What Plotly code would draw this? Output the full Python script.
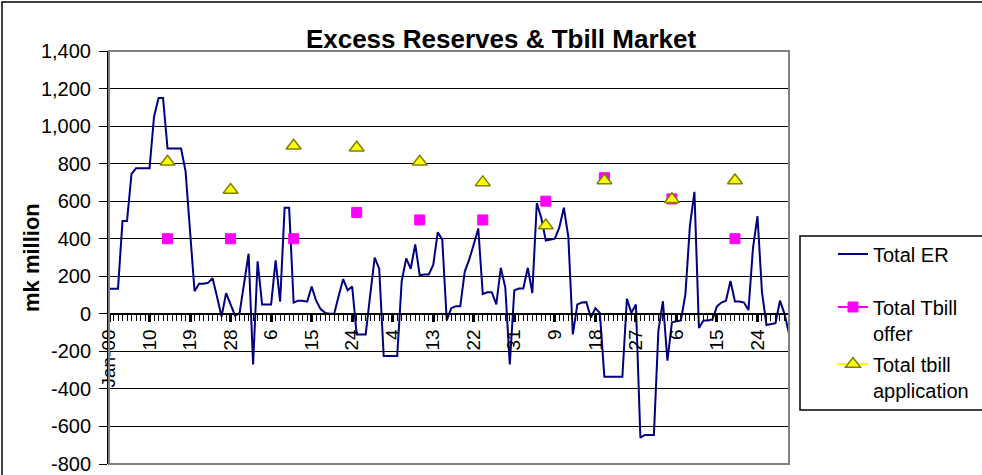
import datetime as dt
import plotly.graph_objects as go

# ---------------- data ----------------
start_date = dt.date(2000, 1, 1)
total_er = [
    134, 134, 134, 495, 495, 745, 775, 775, 775, 775,
    1050, 1150, 1150, 880, 880, 880, 880, 760, 450, 120,
    160, 160, 165, 190, 90, -15, 110, 50, -10, 5,
    160, 320, -270, 280, 50, 50, 50, 285, 65, 565,
    565, 60, 70, 70, 65, 145, 70, 25, 5, 0,
    0, 95, 185, 125, 145, -110, -110, -110, 100, 300,
    240, -225, -225, -225, -225, 175, 295, 240, 370, 205,
    210, 210, 260, 435, 395, -35, 30, 40, 40, 225,
    290, 370, 455, 105, 115, 115, 50, 245, 140, -270,
    125, 135, 135, 245, 110, 590, 510, 390, 395, 400,
    460, 565, 410, -110, 50, 60, 62, -20, 30, 5,
    -335, -335, -335, -335, -335, 80, 5, 50, -660, -645,
    -645, -645, -90, 67, -250, -45, -40, -35, 105, 470,
    650, -75, -35, -35, -30, 40, 60, 70, 175, 66,
    66, 60, 20, 350, 520, 115, -60, -55, -50, 70,
    0, -105,
]
dates = [(start_date + dt.timedelta(days=i)).isoformat() for i in range(len(total_er))]

auction_dates = ["2000-01-14", "2000-01-28", "2000-02-11", "2000-02-25", "2000-03-10",
                 "2000-03-24", "2000-04-07", "2000-04-20", "2000-05-05", "2000-05-19"]
tbill_offer = [400, 400, 400, 540, 500, 500, 600, 725, 612, 400]
tbill_application = [810, 660, 895, 885, 810, 700, 470, 710, 610, 710]

tick_labels = ["Jan-00", "10", "19", "28", "6", "15", "24", "4", "13", "22", "31",
               "9", "18", "27", "6", "15", "24"]
tick_dates = dates[::9][:len(tick_labels)]

y_tick_vals = [-800, -600, -400, -200, 0, 200, 400, 600, 800, 1000, 1200, 1400]
y_tick_text = ["-800", "-600", "-400", "-200", "0", "200", "400", "600", "800",
               "1,000", "1,200", "1,400"]

# sparse series (blank days between auctions)
offer_full = [None] * len(dates)
appl_full = [None] * len(dates)
for d, o, a in zip(auction_dates, tbill_offer, tbill_application):
    k = dates.index(d)
    offer_full[k] = o
    appl_full[k] = a

# ---------------- layout geometry ----------------
W, H = 982, 475
PL, PR, PT, PB = 109, 789, 51, 464
xd = [PL / W, PR / W]
yd = [(H - PB) / H, (H - PT) / H]
ymin, ymax = -800, 1400
zero_pos = yd[0] + (yd[1] - yd[0]) * (0 - ymin) / (ymax - ymin)

FONT = "Liberation Sans, Arial, sans-serif"

fig = go.Figure()
fig.add_trace(go.Scatter(
    x=dates, y=total_er, mode="lines", name="Total ER",
    line=dict(color="#000080", width=2), legend="legend"))
fig.add_trace(go.Scatter(
    x=dates, y=offer_full, mode="lines+markers", name="Total Tbill<br>offer",
    connectgaps=False,
    line=dict(color="#FF00FF", width=2),
    marker=dict(symbol="square", size=10, color="#FF00FF",
                line=dict(color="#FF00FF", width=1)),
    legend="legend2"))
fig.add_trace(go.Scatter(
    x=dates, y=appl_full, mode="lines+markers", name="Total tbill<br>application",
    connectgaps=False,
    line=dict(color="#FFFF00", width=2),
    marker=dict(symbol="triangle-up", size=13, color="#FFFF00",
                line=dict(color="#808000", width=1.5)),
    legend="legend3"))


def px2x(px):
    return px / W


def px2y(py):
    return (H - py) / H


legend_common = dict(
    bgcolor="rgba(0,0,0,0)", borderwidth=0,
    font=dict(family=FONT, size=20, color="black"),
    xanchor="left", x=px2x(833), valign="top",
)

fig.update_layout(
    width=W, height=H,
    margin=dict(l=0, r=0, t=0, b=0, autoexpand=False),
    paper_bgcolor="white", plot_bgcolor="white",
    font=dict(family=FONT, size=18, color="black"),
    title=dict(text="<b>Excess Reserves & Tbill Market</b>",
               font=dict(family=FONT, size=26, color="black"),
               xref="container", yref="container",
               x=501 / W, xanchor="center", y=px2y(39), yanchor="middle"),
    xaxis=dict(
        type="date", domain=xd, range=[dates[0], dates[-1]],
        anchor="free", position=zero_pos, automargin=False,
        showgrid=False, zeroline=False,
        showline=True, linecolor="black", linewidth=2,
        tickmode="array", tickvals=tick_dates, ticktext=tick_labels,
        tickangle=-90, ticks="outside", ticklen=7, tickwidth=3, tickcolor="black",
        tickfont=dict(family=FONT, size=19, color="black"),
        minor=dict(tickmode="array", tickvals=dates, ticks="outside",
                   ticklen=6, tickwidth=1, tickcolor="black", showgrid=False),
    ),
    yaxis=dict(
        domain=yd, range=[ymin, ymax], automargin=False,
        tickmode="array", tickvals=y_tick_vals, ticktext=y_tick_text,
        showgrid=True, gridcolor="black", gridwidth=1,
        zeroline=False,
        showline=True, linecolor="black", linewidth=2,
        ticks="outside", ticklen=8, tickcolor="black", ticklabelstandoff=4,
        tickfont=dict(family=FONT, size=20, color="black"),
    ),
    showlegend=True,
    legend=dict(**legend_common, yanchor="middle", y=px2y(254)),
    legend2=dict(**legend_common, yanchor="middle", y=px2y(320)),
    legend3=dict(**legend_common, yanchor="middle", y=px2y(377)),
    annotations=[dict(
        text="<b>mk million</b>", textangle=-90,
        xref="paper", yref="paper", x=px2x(31), y=px2y(258),
        xanchor="center", yanchor="middle", showarrow=False,
        font=dict(family=FONT, size=22, color="black"))],
    shapes=[
        # plot area border
        dict(type="rect", xref="x domain", yref="y domain", x0=0, x1=1, y0=0, y1=1,
             line=dict(color="#808080", width=2), layer="above"),
        # legend frame
        dict(type="rect", xref="paper", yref="paper",
             x0=px2x(800), x1=px2x(990), y0=px2y(410), y1=px2y(236),
             line=dict(color="black", width=1.5)),
        # outer chart frame
        dict(type="rect", xref="paper", yref="paper",
             x0=px2x(2), x1=px2x(1000), y0=px2y(490), y1=px2y(2),
             line=dict(color="black", width=1.5)),
    ],
)

fig.write_html("out.html")
